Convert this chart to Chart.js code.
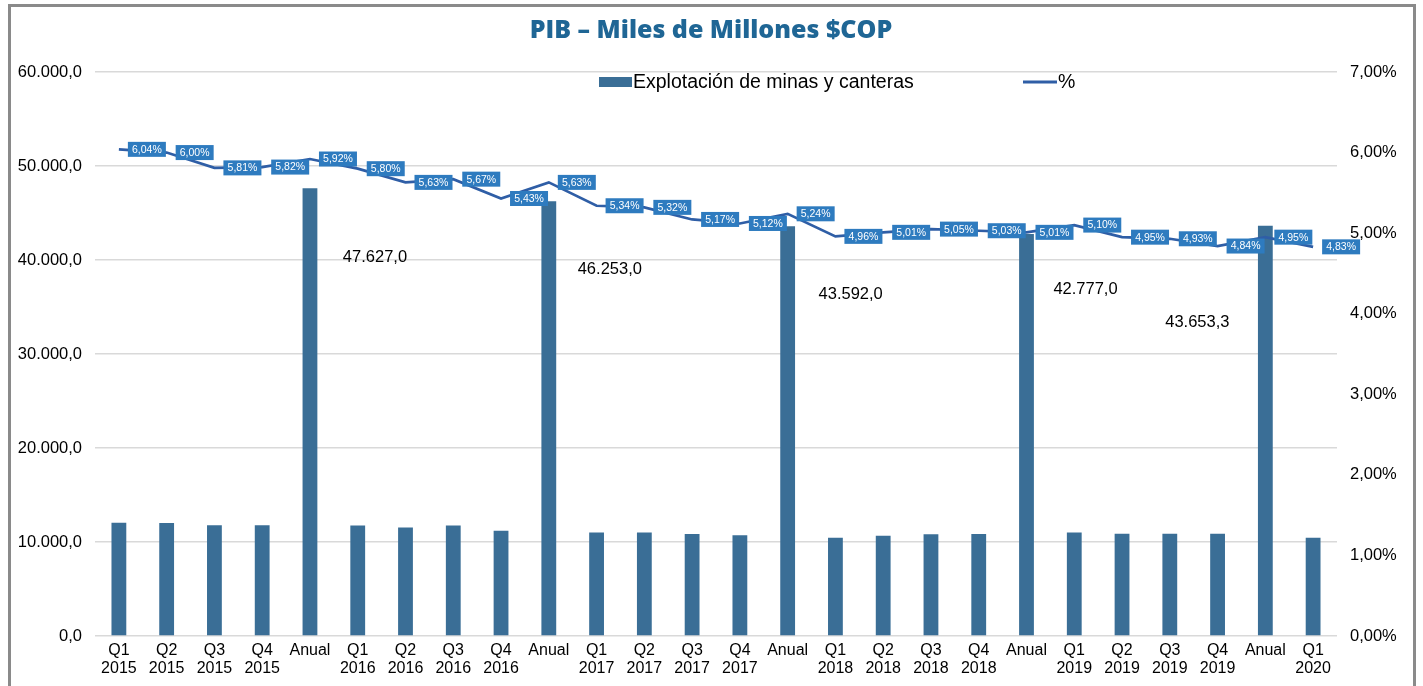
<!DOCTYPE html>
<html>
<head>
<meta charset="utf-8">
<script src="https://cdn.jsdelivr.net/npm/chart.js@4/dist/chart.umd.min.js"></script>
<style>
html,body{margin:0;padding:0;background:#fff;}
#wrap{width:1423px;height:686px;position:relative;}
</style>
</head>
<body>
<div id="wrap"><canvas id="c" width="1423" height="686"></canvas></div>
<script>
const categories = [
  ["Q1","2015"],["Q2","2015"],["Q3","2015"],["Q4","2015"],"Anual",
  ["Q1","2016"],["Q2","2016"],["Q3","2016"],["Q4","2016"],"Anual",
  ["Q1","2017"],["Q2","2017"],["Q3","2017"],["Q4","2017"],"Anual",
  ["Q1","2018"],["Q2","2018"],["Q3","2018"],["Q4","2018"],"Anual",
  ["Q1","2019"],["Q2","2019"],["Q3","2019"],["Q4","2019"],"Anual",
  ["Q1","2020"]
];
const mineriaValues = [
  12040, 12030, 11770, 11790, 47627.0,
  11750, 11530, 11760, 11210, 46253.0,
  11020, 11010, 10850, 10710, 43592.0,
  10450, 10660, 10830, 10840, 42777.0,
  11010, 10880, 10880, 10880, 43653.3,
  10450
];
const percentValues = [
  6.04, 6.00, 5.81, 5.82, 5.92,
  5.80, 5.63, 5.67, 5.43, 5.63,
  5.34, 5.32, 5.17, 5.12, 5.24,
  4.96, 5.01, 5.05, 5.03, 5.01,
  5.10, 4.95, 4.93, 4.84, 4.95,
  4.83
];
const leftTicks = [0, 10000, 20000, 30000, 40000, 50000, 60000];
const rightTicks = [0, 1, 2, 3, 4, 5, 6, 7];
const titleText = "PIB – Miles de Millones $COP";
const barLabel = "Explotación de minas y canteras";
const lineLabel = "%";

const BAR_COLOR = "#3a6e96";
const LINE_COLOR = "#2f5ea6";
const BOX_COLOR = "#2e7bbf";
const FONT = "'Liberation Sans', Arial, sans-serif";

function fmtNum(v, dec){
  const s = v.toFixed(dec);
  let [i, d] = s.split(".");
  i = i.replace(/\B(?=(\d{3})+(?!\d))/g, ".");
  return d !== undefined ? i + "," + d : i;
}

// Offsets of the annual value labels, relative to the top of their bar
const annualLabelOffsets = [
  {dx: 65, dy: 69}, {dx: 61, dy: 68}, {dx: 63, dy: 68}, {dx: 59, dy: 56}, {dx: -68, dy: 97}
];

const decorPlugin = {
  id: "decor",
  beforeDraw(chart){
    const ctx = chart.ctx;
    ctx.save();
    ctx.fillStyle = "#ffffff";
    ctx.fillRect(0, 0, chart.width, chart.height);
    ctx.restore();
  },
  afterDatasetsDraw(chart){
    const ctx = chart.ctx;
    ctx.save();
    const lm = chart.getDatasetMeta(1);
    ctx.font = "10.5px " + FONT;
    ctx.textBaseline = "middle";
    ctx.textAlign = "center";
    lm.data.forEach((pt, i) => {
      const txt = percentValues[i].toFixed(2).replace(".", ",") + "%";
      const w = 38, h = 15;
      const x0 = pt.x + 9, y0 = pt.y - h/2;
      ctx.fillStyle = BOX_COLOR;
      ctx.fillRect(x0, y0, w, h);
      ctx.fillStyle = "#ffffff";
      ctx.fillText(txt, x0 + w/2, pt.y + 0.5);
    });
    const bm = chart.getDatasetMeta(0);
    ctx.font = "16.5px " + FONT;
    ctx.fillStyle = "#000000";
    let k = 0;
    categories.forEach((c, i) => {
      if (c === "Anual"){
        const el = bm.data[i];
        const off = annualLabelOffsets[k++] || {dx: 0, dy: -10};
        ctx.fillText(fmtNum(mineriaValues[i], 1), el.x + off.dx, el.y + off.dy);
      }
    });
    ctx.restore();
  },
  afterDraw(chart){
    const ctx = chart.ctx;
    ctx.save();
    ctx.strokeStyle = "#8a8a8a";
    ctx.lineWidth = 3;
    ctx.strokeRect(9.5, 5.5, 1405, 700);
    ctx.font = "800 25px 'Open Sans', Lato, sans-serif";
    ctx.fillStyle = "#1f6695";
    ctx.textAlign = "center";
    ctx.textBaseline = "middle";
    ctx.fillText(titleText, 711, 31);
    ctx.textAlign = "left";
    ctx.font = "19.5px " + FONT;
    ctx.fillStyle = BAR_COLOR;
    ctx.fillRect(599, 77, 33, 10);
    ctx.fillStyle = "#000";
    ctx.fillText(barLabel, 633, 83);
    ctx.strokeStyle = LINE_COLOR;
    ctx.lineWidth = 3;
    ctx.beginPath();
    ctx.moveTo(1023, 82);
    ctx.lineTo(1057, 82);
    ctx.stroke();
    ctx.fillText(lineLabel, 1058, 83);
    ctx.restore();
  }
};

new Chart(document.getElementById("c"), {
  type: "bar",
  data: {
    labels: categories,
    datasets: [
      {
        type: "bar",
        label: barLabel,
        data: mineriaValues,
        backgroundColor: BAR_COLOR,
        borderWidth: 0,
        barPercentage: 0.31,
        categoryPercentage: 1.0,
        yAxisID: "y",
        order: 2
      },
      {
        type: "line",
        label: lineLabel,
        data: percentValues,
        borderColor: LINE_COLOR,
        borderWidth: 2.7,
        pointRadius: 0,
        tension: 0,
        fill: false,
        yAxisID: "y1",
        order: 1
      }
    ]
  },
  options: {
    responsive: false,
    animation: false,
    devicePixelRatio: 1,
    layout: { padding: { top: 72, left: 0, right: 0, bottom: 0 } },
    plugins: {
      legend: { display: false },
      title: { display: false },
      tooltip: { enabled: false }
    },
    scales: {
      x: {
        grid: { display: false, drawTicks: false },
        border: { display: false },
        ticks: {
          color: "#000",
          font: { family: FONT, size: 16, lineHeight: 1.1 },
          padding: 6,
          maxRotation: 0,
          autoSkip: false
        },
        afterFit(s){ s.height = 50; }
      },
      y: {
        position: "left",
        min: 0, max: 60000,
        afterBuildTicks(s){ s.ticks = leftTicks.map(v => ({value: v})); },
        grid: { color: "#d9d9d9", lineWidth: 1.5, drawTicks: false },
        border: { display: false },
        ticks: {
          color: "#000",
          font: { family: FONT, size: 16.5 },
          padding: 13,
          callback: v => fmtNum(v, 1)
        },
        afterFit(s){ s.width = 95; }
      },
      y1: {
        position: "right",
        min: 0, max: 7,
        afterBuildTicks(s){ s.ticks = rightTicks.map(v => ({value: v})); },
        grid: { display: false, drawTicks: false },
        border: { display: false },
        ticks: {
          color: "#000",
          font: { family: FONT, size: 16.5 },
          padding: 13,
          callback: v => v.toFixed(2).replace(".", ",") + "%"
        },
        afterFit(s){ s.width = 86; }
      }
    }
  },
  plugins: [decorPlugin]
});
</script>
</body>
</html>
